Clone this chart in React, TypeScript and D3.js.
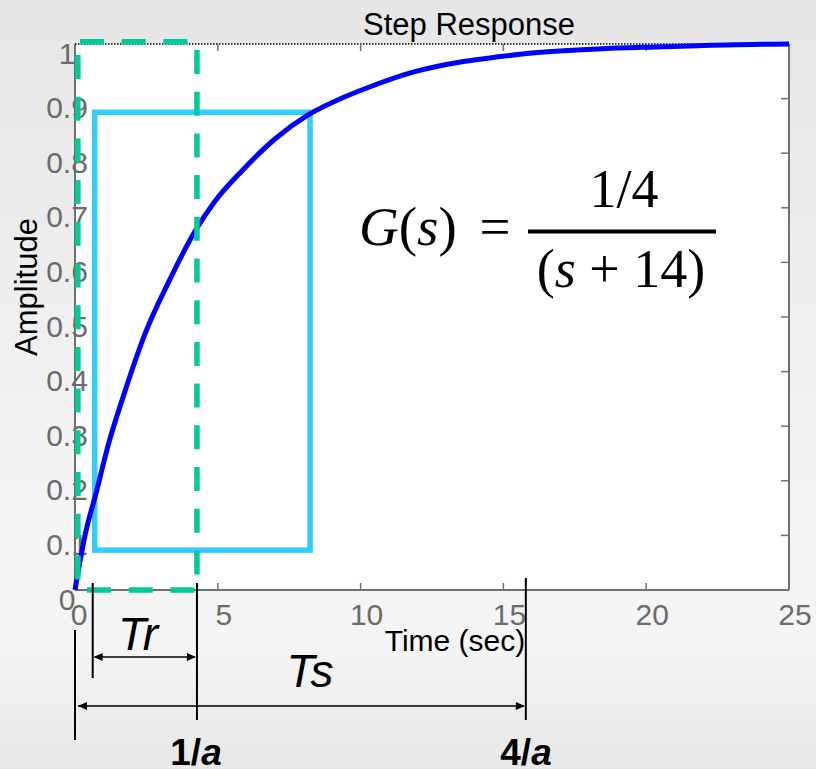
import React from "react";
import * as d3 from "d3";

// ---- data ----
const timeValues = [0, 0.35, 0.76, 1.16, 1.75, 2.45, 3.26, 4.2, 4.9, 5.85, 7.0, 8.16, 9.35, 10.15, 11.8, 13.6, 14.9, 15.9, 18.3, 20.6, 21.8, 25];
const amplitudeValues = [0, 0.1, 0.182, 0.265, 0.364, 0.469, 0.562, 0.657, 0.712, 0.768, 0.826, 0.87, 0.901, 0.918, 0.948, 0.968, 0.977, 0.983, 0.991, 0.995, 0.997, 1.0];

const xTickValues = [0, 5, 10, 15, 20, 25];
const xTickLabels = ["0", "5", "10", "15", "20", "25"];
const yTickValues = [0, 0.1, 0.2, 0.3, 0.4, 0.5, 0.6, 0.7, 0.8, 0.9, 1];
const yTickLabels = ["0", "0.1", "0.2", "0.3", "0.4", "0.5", "0.6", "0.7", "0.8", "0.9", "1"];

// annotation boxes (data units)
const riseBoxTime = [0.69, 8.23];
const riseBoxAmp = [0.073, 0.875];
const tauBoxTime = [0.1, 4.27];
const tauBoxAmp = [0, 1.004];
const trMarks = [0.62, 4.27]; // Tr span
const tsMarks = [0, 15.75]; // Ts span

const W = 816;
const H = 769;

const x = d3.scaleLinear().domain([0, 25]).range([75, 789]);
const y = d3.scaleLinear().domain([0, 1]).range([590, 44]);

const sans = "'Liberation Sans', Arial, Helvetica, sans-serif";
const serif = "'Liberation Serif', 'Times New Roman', Times, serif";
const axisGray = "#707070";
const labelGray = "#6b6b6b";
const green = "#00cc99";
const cyan = "#33ccff";

function arrowHead(tipX: number, tipY: number, dir: number) {
  const len = 9;
  const half = 4;
  return `M${tipX},${tipY}L${tipX - dir * len},${tipY - half}L${tipX - dir * len},${tipY + half}Z`;
}

export default function App() {
  const pts: [number, number][] = timeValues.map((t, i) => [t, amplitudeValues[i]]);
  const line = d3
    .line<[number, number]>()
    .x((d) => x(d[0]))
    .y((d) => y(d[1]))
    .curve(d3.curveMonotoneX);

  const x0 = x(0);
  const x1 = x(25);
  const yTop = y(1);
  const yBot = y(0);

  const gL = x(tauBoxTime[0]);
  const gR = x(tauBoxTime[1]);
  const gT = y(tauBoxAmp[1]);
  const gB = y(tauBoxAmp[0]);

  const trL = x(trMarks[0]);
  const trR = x(trMarks[1]);
  const tsL = x(tsMarks[0]);
  const tsR = x(tsMarks[1]);
  const trY = 657;
  const tsY = 706;

  return (
    <svg
      width={W}
      height={H}
      viewBox={`0 0 ${W} ${H}`}
      style={{ position: "absolute", left: 0, top: 0, display: "block" }}
    >
      <defs>
        <linearGradient id="bg" x1="0" y1="0" x2="0" y2="1">
          <stop offset="0" stopColor="#e6e6e6" />
          <stop offset="0.72" stopColor="#f5f5f5" />
          <stop offset="0.84" stopColor="#f4f4f4" />
          <stop offset="1" stopColor="#e7e7e7" />
        </linearGradient>
      </defs>
      <rect x={0} y={0} width={W} height={H} fill="url(#bg)" />

      {/* plot area */}
      <rect x={x0} y={yTop} width={x1 - x0} height={yBot - yTop} fill="#ffffff" />

      {/* axes */}
      <line x1={x0} y1={yTop} x2={x0} y2={yBot} stroke={axisGray} strokeWidth={2} />
      <line x1={x0} y1={yBot} x2={x1} y2={yBot} stroke={axisGray} strokeWidth={2} />
      <line x1={x1} y1={yTop} x2={x1} y2={yBot} stroke={axisGray} strokeWidth={2} />
      <line x1={x0} y1={yTop} x2={x1} y2={yTop} stroke="#000" strokeWidth={1.5} strokeDasharray="1.5 1.5" />

      {/* ticks */}
      {xTickValues.slice(1, -1).map((t) => (
        <g key={"xt" + t}>
          <line x1={x(t)} x2={x(t)} y1={yBot} y2={yBot - 7} stroke={axisGray} strokeWidth={1.5} />
          <line x1={x(t)} x2={x(t)} y1={yTop} y2={yTop + 7} stroke={axisGray} strokeWidth={1.5} />
        </g>
      ))}
      {yTickValues.slice(1, -1).map((v) => (
        <line key={"yt" + v} x1={x1} x2={x1 - 8} y1={y(v)} y2={y(v)} stroke={axisGray} strokeWidth={1.5} />
      ))}

      {/* tick labels */}
      {xTickValues.map((t, i) => (
        <text
          key={"xl" + t}
          x={x(t) + (i === 0 ? 4 : 6)}
          y={625}
          textAnchor="middle"
          fontFamily={sans}
          fontSize={30}
          fill={labelGray}
        >
          {xTickLabels[i]}
        </text>
      ))}
      {yTickValues.map((v, i) => (
        <text
          key={"yl" + v}
          x={67}
          y={y(v) + 19.5}
          textAnchor="middle"
          fontFamily={sans}
          fontSize={30}
          fill={labelGray}
        >
          {yTickLabels[i]}
        </text>
      ))}

      {/* titles */}
      <text x={469} y={35} textAnchor="middle" fontFamily={sans} fontSize={31} fill="#000">
        Step Response
      </text>
      <text x={455} y={651} textAnchor="middle" fontFamily={sans} fontSize={30} fill="#000">
        Time (sec)
      </text>
      <text
        transform="translate(37,287) rotate(-90)"
        textAnchor="middle"
        fontFamily={sans}
        fontSize={31}
        fill="#000"
      >
        Amplitude
      </text>

      {/* rise-time box */}
      <rect
        x={x(riseBoxTime[0])}
        y={y(riseBoxAmp[1])}
        width={x(riseBoxTime[1]) - x(riseBoxTime[0])}
        height={y(riseBoxAmp[0]) - y(riseBoxAmp[1])}
        fill="none"
        stroke={cyan}
        strokeWidth={5.5}
      />

      {/* step response */}
      <path d={line(pts) || ""} fill="none" stroke="#0000ff" strokeWidth={5} strokeLinejoin="round" />

      {/* time-constant dashed box */}
      <g stroke={green} strokeWidth={5.5} strokeDasharray="24 17.7" fill="none">
        <line x1={gL} x2={gL} y1={55} y2={gB} />
        <line x1={gR} x2={gR} y1={50} y2={gB} />
        <line x1={80} x2={gR} y1={gT} y2={gT} />
        <line x1={87} x2={gR} y1={gB} y2={gB} />
      </g>

      {/* formula */}
      <text x={359} y={245} fontFamily={serif} fontSize={55} fill="#000">
        <tspan fontStyle="italic">G</tspan>
        <tspan>(</tspan>
        <tspan fontStyle="italic">s</tspan>
        <tspan>)</tspan>
      </text>
      <text x={495} y={245} textAnchor="middle" fontFamily={serif} fontSize={55} fill="#000">
        =
      </text>
      <line x1={528} x2={716} y1={231.5} y2={231.5} stroke="#000" strokeWidth={4} />
      <text x={624} y={207} textAnchor="middle" fontFamily={serif} fontSize={54} fill="#000">
        1/4
      </text>
      <text x={621} y={287} textAnchor="middle" fontFamily={serif} fontSize={54} fill="#000">
        <tspan>(</tspan>
        <tspan fontStyle="italic">s</tspan>
        <tspan>{" + 14)"}</tspan>
      </text>

      {/* annotation lines */}
      <g stroke="#000" strokeWidth={2}>
        <line x1={tsL} x2={tsL} y1={630} y2={740} />
        <line x1={trL} x2={trL} y1={583} y2={678} />
        <line x1={trR} x2={trR} y1={583} y2={720} />
        <line x1={tsR + 1} x2={tsR + 1} y1={578} y2={720} />
      </g>
      <g stroke="#000" strokeWidth={1.5}>
        <line x1={trL + 2} x2={trR - 2} y1={trY} y2={trY} />
        <line x1={tsL + 3} x2={tsR - 1} y1={tsY} y2={tsY} />
      </g>
      <g fill="#000">
        <path d={arrowHead(trL + 1, trY, -1)} />
        <path d={arrowHead(trR - 1, trY, 1)} />
        <path d={arrowHead(tsL + 3, tsY, -1)} />
        <path d={arrowHead(tsR, tsY, 1)} />
      </g>

      <text x={138} y={650} textAnchor="middle" fontFamily={sans} fontSize={46} fontStyle="italic" fill="#000">
        Tr
      </text>
      <text x={310} y={687} textAnchor="middle" fontFamily={sans} fontSize={46} fontStyle="italic" fill="#000">
        Ts
      </text>
      <text x={196} y={765} textAnchor="middle" fontFamily={sans} fontSize={37} fontWeight="bold" fill="#000">
        1/<tspan fontStyle="italic">a</tspan>
      </text>
      <text x={526} y={765} textAnchor="middle" fontFamily={sans} fontSize={37} fontWeight="bold" fill="#000">
        4/<tspan fontStyle="italic">a</tspan>
      </text>
    </svg>
  );
}
